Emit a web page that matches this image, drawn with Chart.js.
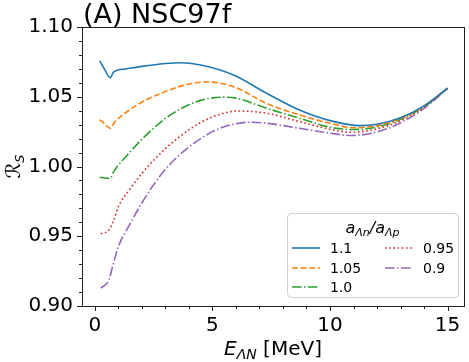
<!DOCTYPE html>
<html>
<head>
<meta charset="utf-8">
<script src="https://cdn.jsdelivr.net/npm/chart.js@4"></script>
<style>
  html, body { margin: 0; padding: 0; background: #fff; }
  canvas { display: block; }
</style>
</head>
<body>
<canvas id="rs_chart" width="469" height="362"></canvas>
<script>
// a_Λn / a_Λp = 1.1
const e110 = [0.2, 0.4, 0.65, 0.8, 1.3, 2, 3, 3.6, 4.5, 5.9, 7.3, 8.7, 10, 11.3, 12, 13, 14, 15];
const r110 = [1.0757, 1.0700, 1.0637, 1.0678, 1.0699, 1.0718, 1.0738, 1.0744, 1.0728, 1.0656, 1.0525, 1.0405, 1.0329, 1.0293, 1.0303, 1.0349, 1.0435, 1.0561];
// 1.05
const e105 = [0.2, 0.4, 0.65, 0.85, 1.5, 2.2, 3, 3.7, 4.3, 4.8, 5.9, 7.3, 8.7, 10, 11, 12, 13, 14, 15];
const r105 = [1.0336, 1.0308, 1.0274, 1.0320, 1.0408, 1.0480, 1.0537, 1.0578, 1.0600, 1.0606, 1.0572, 1.0453, 1.0370, 1.0310, 1.0278, 1.0293, 1.0344, 1.0434, 1.0561];
// 1.0
const e100 = [0.2, 0.65, 0.8, 1.5, 2, 2.5, 3, 3.5, 4, 4.5, 5, 5.5, 6, 7.3, 8.7, 10, 11, 12, 13, 14, 15];
const r100 = [0.9923, 0.9915, 0.9963, 1.0105, 1.0195, 1.0275, 1.0345, 1.0400, 1.0443, 1.0474, 1.0492, 1.0497, 1.0490, 1.0418, 1.0346, 1.0282, 1.0265, 1.0283, 1.0338, 1.0430, 1.0561];
// 0.95
const e095 = [0.25, 0.6, 0.8, 1, 1.5, 2, 2.5, 3, 3.5, 4, 4.5, 5, 5.5, 6, 7.3, 8.7, 10, 10.9, 12, 13, 14, 15];
const r095 = [0.9517, 0.9546, 0.9617, 0.9713, 0.9840, 0.9950, 1.0045, 1.0128, 1.0200, 1.0263, 1.0315, 1.0355, 1.0383, 1.0398, 1.0382, 1.0322, 1.0267, 1.0245, 1.0270, 1.0328, 1.0424, 1.0560];
// 0.9
const e090 = [0.25, 0.6, 0.75, 1, 1.5, 2, 2.5, 3, 3.5, 4, 4.5, 5, 5.5, 6, 6.5, 7.3, 8.7, 10, 10.9, 12, 13, 14, 15];
const r090 = [0.9128, 0.9188, 0.9283, 0.9426, 0.9590, 0.9740, 0.9870, 0.9980, 1.0068, 1.0140, 1.0200, 1.0250, 1.0285, 1.0307, 1.0317, 1.0310, 1.0274, 1.0239, 1.0222, 1.0248, 1.0313, 1.0416, 1.0558];

const seriesLabels = ["1.1", "1.05", "1.0", "0.95", "0.9"];
const xTicks = [0, 5, 10, 15];
const yTicks = [0.90, 0.95, 1.00, 1.05, 1.10];

const FONT = "'DejaVu Sans', sans-serif";

function pts(xs, ys) {
  return xs.map((x, i) => ({x: x, y: ys[i]}));
}

function line(label, xs, ys, color, dash) {
  return {
    label: label,
    data: pts(xs, ys),
    borderColor: color,
    backgroundColor: color,
    borderWidth: 1.6,
    borderDash: dash,
    borderCapStyle: "butt",
    pointRadius: 0,
    fill: false,
    cubicInterpolationMode: "monotone"
  };
}

// spines, tick marks, title, axis titles, legend
const decor = {
  id: "decor",
  afterDraw(chart) {
    const ctx = chart.ctx;
    const a = chart.chartArea;
    const x = chart.scales.x, y = chart.scales.y;
    ctx.save();
    ctx.strokeStyle = "#222";
    ctx.lineWidth = 1;
    ctx.setLineDash([]);
    ctx.strokeRect(Math.round(a.left) + 0.5, Math.round(a.top) + 0.5,
      Math.round(a.right - a.left), Math.round(a.bottom - a.top));

    ctx.beginPath();
    for (let v = 0; v <= 15; v++) {
      const px = Math.round(x.getPixelForValue(v)) + 0.5;
      const len = v % 5 === 0 ? 5 : 3;
      ctx.moveTo(px, a.bottom);
      ctx.lineTo(px, a.bottom + len);
    }
    for (let k = 90; k <= 110; k++) {
      const py = Math.round(y.getPixelForValue(k / 100)) + 0.5;
      const len = k % 5 === 0 ? 5 : 3;
      ctx.moveTo(a.left, py);
      ctx.lineTo(a.left - len, py);
    }
    ctx.stroke();

    // title
    ctx.fillStyle = "#000";
    ctx.textBaseline = "alphabetic";
    ctx.textAlign = "left";
    ctx.font = "27px " + FONT;
    ctx.fillText("(A) NSC97f", a.left + 1, 23);

    // x axis title
    const cx = (a.left + a.right) / 2;
    const parts = [
      {t: "E", f: "italic 20px " + FONT, dy: 0},
      {t: "ΛN", f: "italic 14px " + FONT, dy: 4},
      {t: " [MeV]", f: "20px " + FONT, dy: 0}
    ];
    let w = 0;
    parts.forEach(p => { ctx.font = p.f; w += ctx.measureText(p.t).width; });
    let px = cx - w / 2;
    parts.forEach(p => {
      ctx.font = p.f;
      ctx.fillText(p.t, px, 355 + p.dy);
      px += ctx.measureText(p.t).width;
    });

    // y axis title
    ctx.save();
    ctx.translate(20, (a.top + a.bottom) / 2);
    ctx.rotate(-Math.PI / 2);
    ctx.font = "italic 20px " + FONT;
    const rw = ctx.measureText("ℛ").width;
    ctx.font = "italic 13px " + FONT;
    const sw = ctx.measureText("S").width;
    let sx = -(rw + sw) / 2;
    ctx.font = "italic 20px " + FONT;
    ctx.fillText("ℛ", sx, 0);
    ctx.font = "italic 13px " + FONT;
    ctx.fillText("S", sx + rw, 4);
    ctx.restore();

    // legend
    const bx = 287, by = 213, bw = 171, bh = 84;
    ctx.beginPath();
    ctx.roundRect(bx + 0.5, by + 0.5, bw, bh, 4);
    ctx.fillStyle = "rgba(255,255,255,0.8)";
    ctx.fill();
    ctx.strokeStyle = "#d0d0d0";
    ctx.stroke();

    ctx.fillStyle = "#000";
    const tparts = [
      {t: "a", f: "italic 16px " + FONT, dy: 0},
      {t: "Λn", f: "italic 11px " + FONT, dy: 3},
      {t: "/a", f: "italic 16px " + FONT, dy: 0},
      {t: "Λp", f: "italic 11px " + FONT, dy: 3}
    ];
    w = 0;
    tparts.forEach(p => { ctx.font = p.f; w += ctx.measureText(p.t).width; });
    px = bx + bw / 2 - w / 2;
    tparts.forEach(p => {
      ctx.font = p.f;
      ctx.fillText(p.t, px, 233 + p.dy);
      px += ctx.measureText(p.t).width;
    });

    const slots = [[292, 248], [292, 268], [292, 287], [385, 248], [385, 268]];
    ctx.font = "14px " + FONT;
    ctx.textBaseline = "middle";
    chart.data.datasets.forEach((ds, i) => {
      const s = slots[i];
      ctx.beginPath();
      ctx.strokeStyle = ds.borderColor;
      ctx.lineWidth = ds.borderWidth;
      ctx.lineCap = "butt";
      ctx.setLineDash(ds.borderDash);
      ctx.moveTo(s[0], s[1]);
      ctx.lineTo(s[0] + 28, s[1]);
      ctx.stroke();
      ctx.fillStyle = "#000";
      ctx.fillText(ds.label, s[0] + 38, s[1] + 1);
    });
    ctx.restore();
  }
};

const ctx1 = document.getElementById("rs_chart").getContext("2d");
const rsChart = new Chart(ctx1, {
  type: "line",
  data: {
    datasets: [
      line(seriesLabels[0], e110, r110, "#1f77b4", []),
      line(seriesLabels[1], e105, r105, "#ff7f0e", [6, 2.6]),
      line(seriesLabels[2], e100, r100, "#2ca02c", [9.6, 2.4, 1.5, 2.4]),
      line(seriesLabels[3], e095, r095, "#d62728", [1.6, 2.6]),
      line(seriesLabels[4], e090, r090, "#9467bd", [9.6, 2.4, 1.5, 2.4])
    ]
  },
  options: {
    responsive: false,
    animation: false,
    devicePixelRatio: 1,
    layout: { padding: { left: 0, top: 27, right: 5, bottom: 0 } },
    plugins: {
      legend: { display: false },
      tooltip: { enabled: false }
    },
    scales: {
      x: {
        type: "linear",
        min: -0.55,
        max: 15.7,
        grid: { display: false, drawTicks: false },
        border: { display: false },
        afterBuildTicks: s => { s.ticks = xTicks.map(v => ({value: v})); },
        afterFit: s => { s.height = 56; },
        ticks: {
          padding: 8,
          color: "#000",
          font: { family: FONT, size: 20 },
          callback: v => String(v)
        }
      },
      y: {
        type: "linear",
        min: 0.9,
        max: 1.1,
        grid: { display: false, drawTicks: false },
        border: { display: false },
        afterBuildTicks: s => { s.ticks = yTicks.map(v => ({value: v})); },
        afterFit: s => { s.width = 82; },
        ticks: {
          padding: 9,
          color: "#000",
          font: { family: FONT, size: 20 },
          callback: v => Number(v).toFixed(2)
        }
      }
    }
  },
  plugins: [decor]
});
</script>
</body>
</html>
